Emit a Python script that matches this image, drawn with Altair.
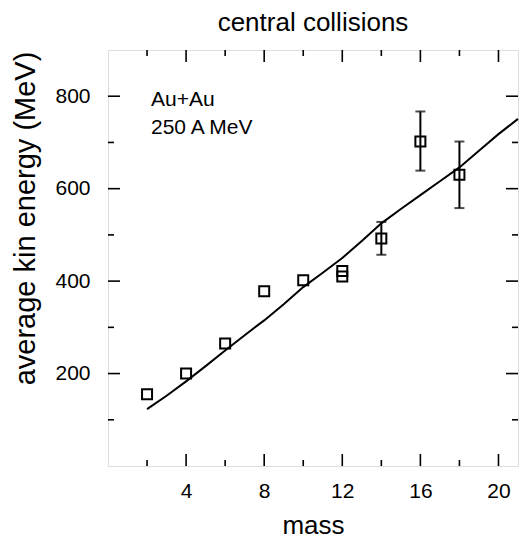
import altair as alt
import pandas as pd

# measured points
mass = [2, 4, 6, 8, 10, 12, 12, 14, 16, 18]
energy = [155, 200, 265, 378, 402, 422, 410, 492, 702, 630]

# error bars
err_mass = [14, 16, 18]
err_lo = [457, 639, 558]
err_hi = [528, 767, 702]

# model curve
curve_mass = [2, 3, 4, 5, 6, 7, 8, 9, 10, 11, 12, 13, 14, 15, 16, 17, 18, 19, 20, 21]
curve_energy = [123, 152, 183, 216, 250, 283, 315, 350, 387, 418, 450, 487, 525, 556,
                586, 616, 646, 682, 718, 751]

# ticks
x_major = [4, 8, 12, 16, 20]
x_minor = [2, 6, 10, 14, 18]
y_major = [200, 400, 600, 800]
y_minor = [100, 300, 500, 700]

# annotation
note_text = ["Au+Au", "250 A MeV"]
note_x = [2.2, 2.2]
note_y = [779, 718]

W, H = 410, 416
FONT = "Liberation Sans"

pts = pd.DataFrame({"mass": mass, "energy": energy})
err = pd.DataFrame({"mass": err_mass, "lo": err_lo, "hi": err_hi})
cur = pd.DataFrame({"mass": curve_mass, "energy": curve_energy})
notes = pd.DataFrame({"t": note_text, "x": note_x, "y": note_y})

xs = alt.Scale(domain=[0, 21], nice=False, zero=False)
ys = alt.Scale(domain=[0, 900], nice=False, zero=False)

xax = alt.Axis(values=x_major, title="mass", grid=False, ticks=False, domain=False,
               labelFont=FONT, labelFontSize=21, labelColor="black", labelPadding=14,
               titleFont=FONT, titleFontSize=26, titleFontWeight="normal", titleColor="black",
               titleBaseline="alphabetic", titleY=67)
yax = alt.Axis(values=y_major, title="average kin energy (MeV)", grid=False, ticks=False,
               domain=False, labelFont=FONT, labelFontSize=21, labelColor="black",
               labelPadding=18, titleFont=FONT, titleFontSize=29, titleFontWeight="normal",
               titleColor="black", titleAngle=270, titleAlign="center",
               titleBaseline="middle", titleX=-83, titleY=168)

line = alt.Chart(cur).mark_line(color="black", strokeWidth=2).encode(
    x=alt.X("mass:Q", scale=xs, axis=xax),
    y=alt.Y("energy:Q", scale=ys, axis=yax),
)

bars = alt.Chart(err).mark_rule(color="black", strokeWidth=2).encode(
    x=alt.X("mass:Q", scale=xs), y=alt.Y("lo:Q", scale=ys), y2="hi:Q")
cap_lo = alt.Chart(err).mark_tick(color="black", orient="horizontal", size=10, thickness=2).encode(
    x=alt.X("mass:Q", scale=xs), y=alt.Y("lo:Q", scale=ys))
cap_hi = alt.Chart(err).mark_tick(color="black", orient="horizontal", size=10, thickness=2).encode(
    x=alt.X("mass:Q", scale=xs), y=alt.Y("hi:Q", scale=ys))

points = alt.Chart(pts).mark_point(shape="square", filled=False, color="black", size=100,
                                   strokeWidth=2, opacity=1).encode(
    x=alt.X("mass:Q", scale=xs), y=alt.Y("energy:Q", scale=ys))

text = alt.Chart(notes).mark_text(font=FONT, fontSize=21, align="left", baseline="alphabetic",
                                  color="black").encode(
    x=alt.X("x:Q", scale=xs), y=alt.Y("y:Q", scale=ys), text="t:N")


def xticks(vals, length):
    d = pd.DataFrame({"v": vals})
    b = alt.Chart(d).mark_rule(color="black", strokeWidth=1.6).encode(
        x=alt.X("v:Q", scale=xs), y=alt.value(H), y2=alt.value(H - length))
    t = alt.Chart(d).mark_rule(color="black", strokeWidth=1.6).encode(
        x=alt.X("v:Q", scale=xs), y=alt.value(0), y2=alt.value(length))
    return [b, t]


def yticks(vals, length):
    d = pd.DataFrame({"v": vals})
    l = alt.Chart(d).mark_rule(color="black", strokeWidth=1.6).encode(
        y=alt.Y("v:Q", scale=ys), x=alt.value(0), x2=alt.value(length))
    r = alt.Chart(d).mark_rule(color="black", strokeWidth=1.6).encode(
        y=alt.Y("v:Q", scale=ys), x=alt.value(W), x2=alt.value(W - length))
    return [l, r]


layers = [line, bars, cap_lo, cap_hi, points, text]
layers += xticks(x_major, 12) + xticks(x_minor, 6) + yticks(y_major, 12) + yticks(y_minor, 6)

chart = alt.layer(*layers).properties(
    width=W, height=H,
    title=alt.TitleParams("central collisions", font=FONT, fontSize=26, fontWeight="normal",
                          color="black", anchor="middle", baseline="alphabetic", offset=18,
                          dy=26),
    padding={"left": 108, "top": 50, "right": 2, "bottom": 73},
    autosize=alt.AutoSizeParams(type="none"),
).configure_view(stroke="black", strokeWidth=2).configure(background="white")

chart.save("out.html", embed_options={"renderer": "svg", "actions": False})
